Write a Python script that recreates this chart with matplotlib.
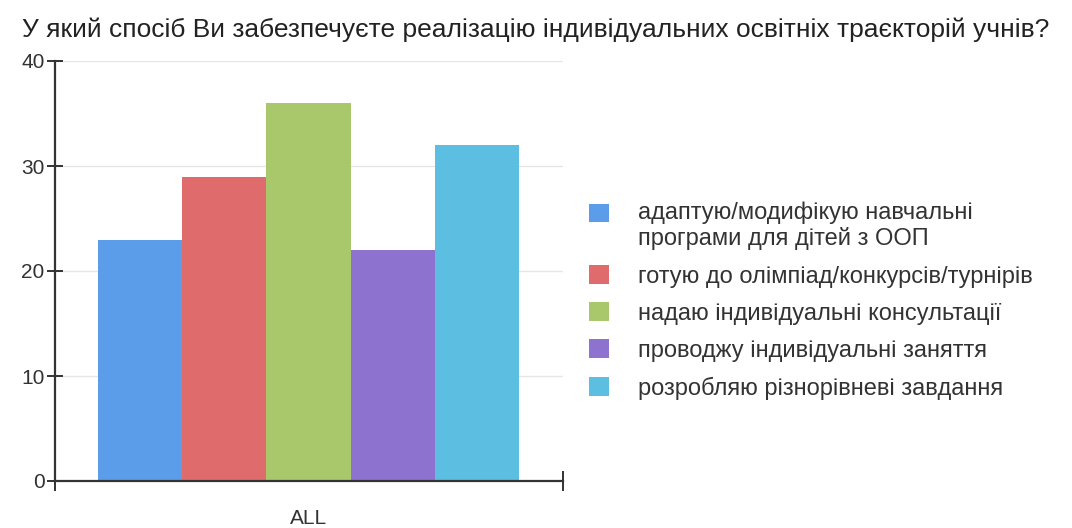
import numpy as np
import matplotlib.pyplot as plt

plt.rcParams['font.family'] = ['Liberation Sans', 'DejaVu Sans']

title = 'У який спосіб Ви забезпечуєте реалізацію індивідуальних освітніх траєкторій учнів?'
categories = ['адаптую/модифікую навчальні\nпрограми для дітей з ООП',
              'готую до олімпіад/конкурсів/турнірів',
              'надаю індивідуальні консультації',
              'проводжу індивідуальні заняття',
              'розробляю різнорівневі завдання']
values = [23, 29, 36, 22, 32]
colors = ['#5c9de9', '#e06b6d', '#a9c86b', '#8d73cf', '#5cbfe2']
group_label = 'ALL'

fig = plt.figure(figsize=(10.72, 5.28), dpi=100)
ax = fig.add_axes([55/1072, 1 - 481/528, 508/1072, 420/528])

x = np.arange(len(values))
bars = ax.bar(x, values, width=1.0, color=colors, label=categories, zorder=2)

ax.set_xlim(-1.01, 5.02)
ax.set_ylim(0, 40)
ax.set_yticks([0, 10, 20, 30, 40])
ax.set_xticks([2])
ax.set_xticklabels([group_label])
ax.set_xticks([-1.01, 5.02], minor=True)

ax.grid(axis='y', color='#e6e6e6', linewidth=1, zorder=0)
for s in ['top', 'right']:
    ax.spines[s].set_visible(False)
for s in ['left', 'bottom']:
    ax.spines[s].set_color('#333333')
    ax.spines[s].set_linewidth(1.6)

ax.tick_params(axis='y', direction='inout', length=11, width=1.4, color='#333333',
               labelsize=15, labelcolor='#333333', pad=2)
ax.tick_params(axis='x', which='major', length=0, labelsize=15, labelcolor='#333333', pad=20)
ax.tick_params(axis='x', which='minor', direction='inout', length=14, width=1.4, color='#333333')

fig.text(22/1072, 1 - 30/528, title, fontsize=19, color='#222222', va='center', ha='left')

leg = fig.legend(handles=bars.patches, labels=categories, loc='upper left',
                 bbox_to_anchor=(568/1072, 1 - 180/528), frameon=False,
                 fontsize=17, handlelength=0.85, handleheight=0.85, handletextpad=1.2,
                 labelspacing=0.62, labelcolor='#333333')

# square of the two-line entry sits next to its first line
first = leg.legend_handles[0]
first.set_y(first.get_y() + 9.5)

fig.savefig('out.png', dpi=100, facecolor='white')
